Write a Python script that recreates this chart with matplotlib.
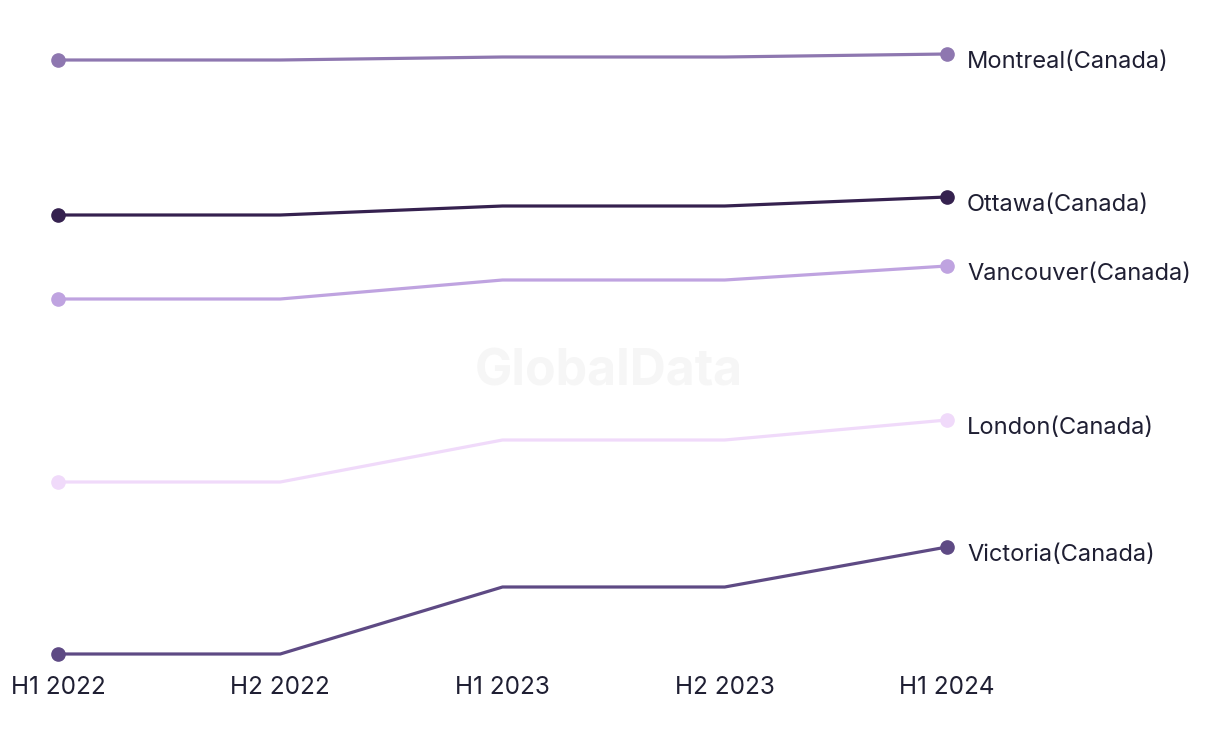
import matplotlib
matplotlib.use("Agg")
from matplotlib import pyplot as plt

periods = ["H1 2022", "H2 2022", "H1 2023", "H2 2023", "H1 2024"]
cities = ["Montreal(Canada)", "Ottawa(Canada)", "Vancouver(Canada)", "London(Canada)", "Victoria(Canada)"]
montreal = [68.4, 68.4, 68.7, 68.7, 69.0]
ottawa = [52.9, 52.9, 53.8, 53.8, 54.7]
vancouver = [44.5, 44.5, 46.4, 46.4, 47.8]
london = [26.2, 26.2, 30.4, 30.4, 32.4]
victoria = [9.0, 9.0, 15.7, 15.7, 19.7]
colors = ["#8e77b0", "#35214f", "#bfa3e0", "#f0dafa", "#5e4a84"]

series = [montreal, ottawa, vancouver, london, victoria]
text_color = "#1f1f33"
plt.rcParams['font.family'] = ['Inter', 'DejaVu Sans']

fig = plt.figure(figsize=(12.2, 7.44), dpi=100)
ax = fig.add_axes([0, 0, 1, 1])
x = list(range(len(periods)))

# watermark
ax.text(2.48, 37.2, "GlobalData", fontsize=36, fontweight='bold', color="#f6f6f6",
        ha='center', va='center', zorder=0)

for name, vals, c in zip(cities, series, colors):
    ax.plot(x, vals, color=c, lw=2.3, marker='o', markersize=9.5,
            markevery=[0, len(x) - 1], solid_capstyle='round', zorder=2)
    ax.text(x[-1] + 0.09, vals[-1] - 0.8, name, fontsize=17, color=text_color,
            ha='left', va='center')

for xi, p in zip(x, periods):
    ax.text(xi, 5.7, p, fontsize=17.5, color=text_color, ha='center', va='center')

ax.set_xlim(-58 / 222.25, (1220 - 58) / 222.25)
ax.set_ylim(0, 74.4)
ax.axis('off')
fig.savefig("out.png", dpi=100)
